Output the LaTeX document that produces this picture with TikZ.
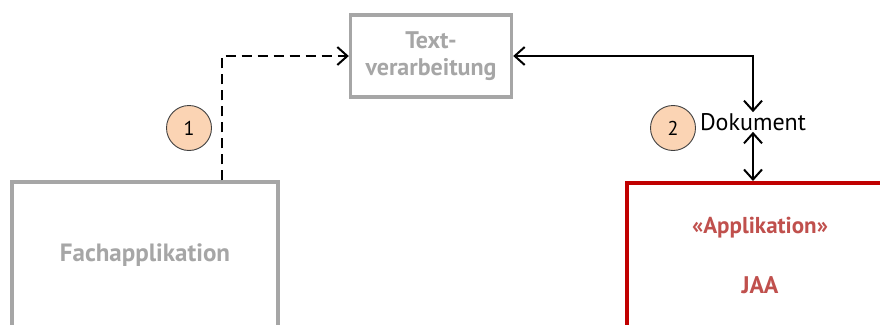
\documentclass[tikz,border=0pt]{standalone}
\usepackage{fontspec}
\setmainfont{PT Sans}
\usetikzlibrary{arrows.meta,calc}
\definecolor{boxgray}{HTML}{A6A6A6}
\definecolor{appred}{HTML}{C00000}
\definecolor{apptext}{HTML}{C0504D}
\definecolor{stepfill}{HTML}{FBD4B4}
\definecolor{stepline}{HTML}{404040}
\tikzset{
  x=1pt, y=-1pt,
  barb/.tip={Straight Barb[length=10pt,width=18pt,line width=2pt]},
  graybox/.style={draw=boxgray, line width=3.4pt, text=boxgray, align=center, inner sep=0pt},
  redbox/.style={draw=appred, line width=4pt, inner sep=0pt},
  stepmark/.style={circle, draw=stepline, line width=0.9pt, fill=stepfill, minimum size=45pt, inner sep=0pt, font=\fontsize{20}{20}\selectfont},
  flow/.style={line width=2.2pt},
}
\begin{document}
\begin{tikzpicture}
\useasboundingbox (0,0) rectangle (880,324);
\clip (0,0) rectangle (880,324);
\fill[white] (0,0) rectangle (880,324);

% applications
\node[graybox, minimum width=266pt, minimum height=146pt, font=\bfseries\fontsize{25}{25}\selectfont] (fach) at (145,255) {Fachapplikation};
\node[redbox, minimum width=266pt, minimum height=146pt] (jaa) at (760,256) {};
\node[text=apptext, font=\bfseries\fontsize{23}{23}\selectfont] (stereo) at (760,228) {«Applikation»};
\node[text=apptext, font=\bfseries\fontsize{24}{24}\selectfont] (jaaname) at (760,285) {JAA};

% word processor
\node[graybox, minimum width=161pt, minimum height=82pt, font=\bfseries\fontsize{24}{27}\selectfont] (tv) at (431,56) {Text-\\verarbeitung};

% document
\node[font=\fontsize{24}{24}\selectfont, inner sep=1pt] (dok) at (753,122) {Dokument};

% step markers
\node[stepmark] (c1) at (189,128) {1};
\node[stepmark] (c2) at (673,128) {2};

% connectors
\draw[flow, dash pattern=on 10pt off 6pt, -barb] ([xshift=77pt]fach.north) |- (tv.west);
\draw[flow, barb-barb] (tv.east) -| (dok.north);
\draw[flow, barb-barb] (dok.south) -- (dok.south |- jaa.north);
\end{tikzpicture}
\end{document}
